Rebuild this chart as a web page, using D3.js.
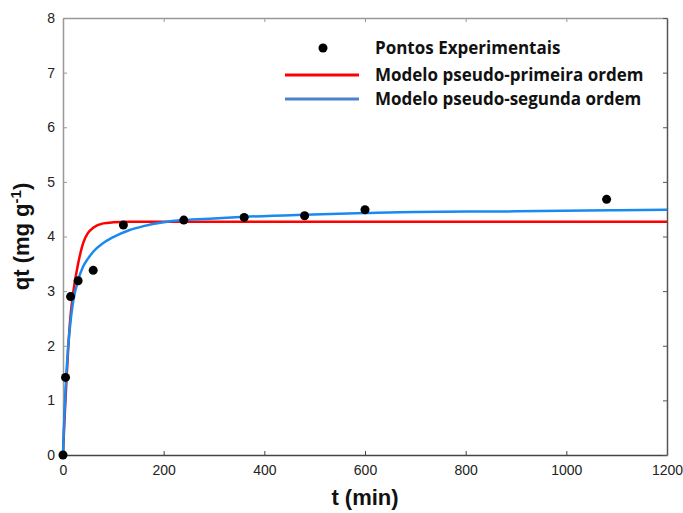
<!DOCTYPE html>
<html lang="pt">
<head>
  <meta charset="UTF-8">
  <title>Cinética de adsorção</title>
  <script src="https://d3js.org/d3.v7.min.js"></script>
  <style>
    body {margin: 0; padding: 0; background: #fff;}
    svg {display: block;}
    .tick text {font-family: "Liberation Sans", Arial, sans-serif; font-size: 14px; fill: #222;}
    .legend text {font-family: "Open Sans", sans-serif; font-weight: bold; font-size: 17px; fill: #111;}
    .label {font-family: "Liberation Sans", Arial, sans-serif; font-weight: bold; font-size: 22px; fill: #111;}
  </style>
</head>
<body>
  <div id="chart"></div>
  <script>
    // experimental points
    const tExp = [0, 5, 15, 30, 60, 120, 240, 360, 480, 600, 1080];
    const qExp = [0, 1.42, 2.9, 3.19, 3.38, 4.21, 4.30, 4.35, 4.38, 4.49, 4.68];

    // model curves
    const tModel = [0, 2, 5, 10, 15, 20, 30, 40, 50, 60, 80, 100, 130, 160, 200, 240, 300, 360, 480, 600, 700, 900, 1100, 1200];
    const qPFO   = [0, 0.45, 1.02, 1.9, 2.55, 2.95, 3.5, 3.88, 4.07, 4.16, 4.24, 4.26, 4.27, 4.27, 4.27, 4.27, 4.27, 4.27, 4.27, 4.27, 4.27, 4.27, 4.27, 4.27];
    const qPSO   = [0, 0.55, 1.2, 1.95, 2.45, 2.8, 3.2, 3.45, 3.6, 3.72, 3.88, 3.99, 4.11, 4.19, 4.26, 4.3, 4.33, 4.36, 4.40, 4.43, 4.45, 4.46, 4.48, 4.49];

    const xTicks = [0, 200, 400, 600, 800, 1000, 1200];
    const yTicks = [0, 1, 2, 3, 4, 5, 6, 7, 8];

    const legendItems = ["Pontos Experimentais", "Modelo pseudo-primeira ordem", "Modelo pseudo-segunda ordem"];

    const W = 683, H = 513;
    const margin = {top: 18, right: 16, bottom: 58, left: 63};
    const w = W - margin.left - margin.right;
    const h = H - margin.top - margin.bottom;

    const svg = d3.select("#chart").append("svg")
      .attr("width", W).attr("height", H);
    const g = svg.append("g").attr("transform", `translate(${margin.left},${margin.top})`);

    const x = d3.scaleLinear().domain([0, 1200]).range([0, w]);
    const y = d3.scaleLinear().domain([0, 8]).range([h, 0]);

    // axes with inward ticks
    const axBottom = g.append("g").attr("transform", `translate(0,${h})`)
      .call(d3.axisBottom(x).tickValues(xTicks).tickFormat(d3.format("d"))
        .tickSizeInner(-4).tickSizeOuter(0).tickPadding(10));
    const axLeft = g.append("g")
      .call(d3.axisLeft(y).tickValues(yTicks).tickFormat(d3.format("d"))
        .tickSizeInner(-4).tickSizeOuter(0).tickPadding(8));
    const axTop = g.append("g")
      .call(d3.axisTop(x).tickValues(xTicks).tickSizeInner(-4).tickSizeOuter(0).tickFormat(""));
    const axRight = g.append("g").attr("transform", `translate(${w},0)`)
      .call(d3.axisRight(y).tickValues(yTicks).tickSizeInner(-4).tickSizeOuter(0).tickFormat(""));

    axBottom.selectAll(".domain, line").attr("stroke", "#444");
    axLeft.selectAll(".domain, line").attr("stroke", "#999");
    axTop.selectAll(".domain, line").attr("stroke", "#999");
    axRight.selectAll(".domain, line").attr("stroke", "#555");
    [axBottom, axLeft, axTop, axRight].forEach(a => a.select(".domain").attr("stroke-width", 1.5));

    // model lines
    const line = d3.line().x(d => x(d[0])).y(d => y(d[1])).curve(d3.curveMonotoneX);
    g.append("path").datum(tModel.map((t, i) => [t, qPFO[i]]))
      .attr("d", line).attr("fill", "none").attr("stroke", "#ff0000").attr("stroke-width", 2.5);
    g.append("path").datum(tModel.map((t, i) => [t, qPSO[i]]))
      .attr("d", line).attr("fill", "none").attr("stroke", "#1a8af0").attr("stroke-width", 2.5);

    // points
    g.selectAll("circle.pt").data(tExp.map((t, i) => [t, qExp[i]]))
      .join("circle").attr("class", "pt")
      .attr("cx", d => x(d[0])).attr("cy", d => y(d[1]))
      .attr("r", 4.5).attr("fill", "#000");

    // legend
    const lg = svg.append("g").attr("class", "legend");
    const rowY = [48, 75, 99];
    lg.append("circle").attr("cx", 323).attr("cy", rowY[0]).attr("r", 4.5).attr("fill", "#000");
    lg.append("line").attr("x1", 285).attr("x2", 359).attr("y1", rowY[1]).attr("y2", rowY[1])
      .attr("stroke", "#ff0000").attr("stroke-width", 3);
    lg.append("line").attr("x1", 285).attr("x2", 359).attr("y1", rowY[2]).attr("y2", rowY[2])
      .attr("stroke", "#4d80d0").attr("stroke-width", 3);
    lg.selectAll("text").data(legendItems).join("text")
      .attr("x", 375).attr("y", (d, i) => rowY[i]).attr("dy", "0.35em").text(d => d);

    // axis labels
    svg.append("text").attr("class", "label")
      .attr("x", margin.left + x(600)).attr("y", 505).attr("text-anchor", "middle")
      .text("t (min)");
    const yl = svg.append("text").attr("class", "label")
      .attr("transform", `translate(29,${margin.top + y(4)}) rotate(-90)`)
      .attr("text-anchor", "middle");
    yl.append("tspan").text("qt (mg g");
    yl.append("tspan").attr("dy", -8).attr("font-size", 15).text("-1");
    yl.append("tspan").attr("dy", 8).text(")");
  </script>
</body>
</html>
